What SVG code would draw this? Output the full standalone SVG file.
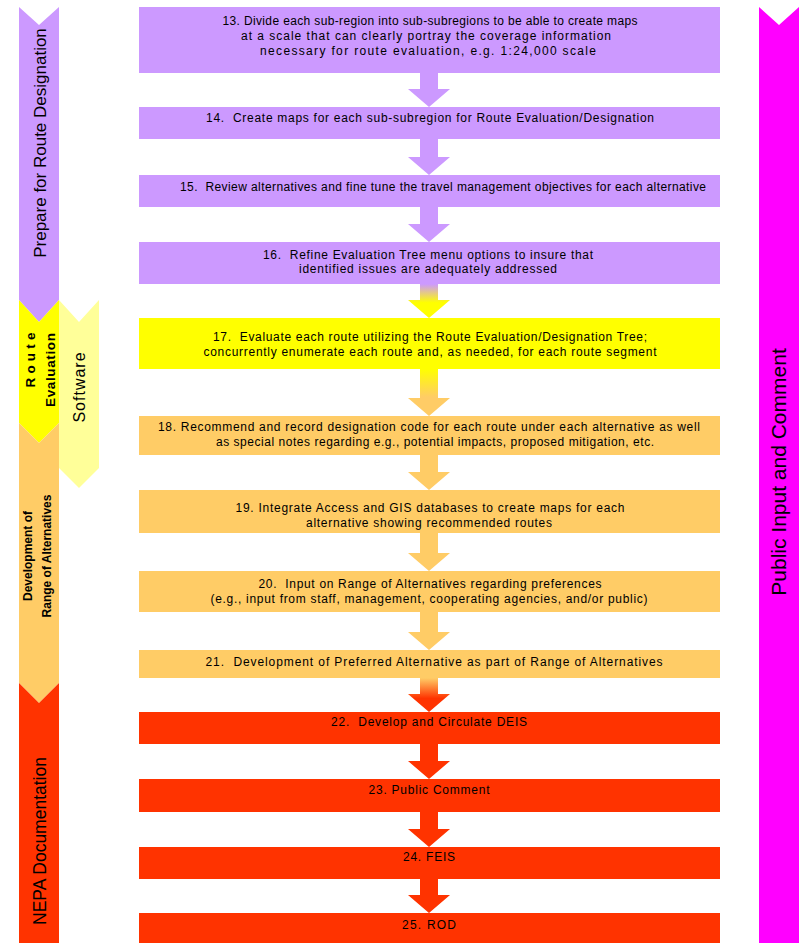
<svg xmlns="http://www.w3.org/2000/svg" width="805" height="943" viewBox="0 0 805 943">
<defs>
<linearGradient id="gPY" x1="0" y1="0" x2="0" y2="1"><stop offset="0" stop-color="#CC99FF"/><stop offset="0.55" stop-color="#FFFF00"/><stop offset="1" stop-color="#FFFF00"/></linearGradient>
<linearGradient id="gYO" x1="0" y1="0" x2="0" y2="1"><stop offset="0" stop-color="#FFFF00"/><stop offset="0.6" stop-color="#FFCC66"/><stop offset="1" stop-color="#FFCC66"/></linearGradient>
<linearGradient id="gOR" x1="0" y1="0" x2="0" y2="1"><stop offset="0" stop-color="#FFCC66"/><stop offset="0.6" stop-color="#FF3300"/><stop offset="1" stop-color="#FF3300"/></linearGradient>
</defs>
<style>
.purple{fill:#CC99FF}
.yellow{fill:#FFFF00}
.orange{fill:#FFCC66}
.red{fill:#FF3300}
.magenta{fill:#FF00FF}
.lyellow{fill:#FFFF99}
.t{font-family:"Liberation Sans",Arial,sans-serif;font-size:12px;fill:#000;text-anchor:middle}
.side{font-family:"Liberation Sans",Arial,sans-serif;fill:#000;text-anchor:middle}
</style>
<rect width="805" height="943" fill="#FFFFFF"/>

<g id="phases">
<polygon class="purple" points="19,7 39,25 59,7 59,300 39,322 19,300"/>
<polygon class="yellow" points="19,300 39,322 59,300 59,423 39,443 19,423"/>
<polygon class="orange" points="19,423 39,443 59,423 59,683 39,703 19,683"/>
<polygon class="red" points="19,683 39,703 59,683 59,943 19,943"/>
<polygon class="lyellow" points="59,300 79,322 99,300 99,468 79,488 59,468"/>
<polygon class="magenta" points="759,7 779,25 799,7 799,943 759,943"/>
<text class="side" font-size="17" transform="translate(40,143) rotate(-90)" dy="6">Prepare for Route Designation</text>
<text class="side" font-size="13.5" font-weight="bold" textLength="55" lengthAdjust="spacing" transform="translate(35,360) rotate(-90)">Route</text>
<text class="side" font-size="13.5" font-weight="bold" textLength="74" lengthAdjust="spacing" transform="translate(55,370) rotate(-90)">Evaluation</text>
<text class="side" font-size="16" letter-spacing="1" transform="translate(79,387) rotate(-90)" dy="6">Software</text>
<text class="side" font-size="12" font-weight="bold" transform="translate(32,556) rotate(-90)">Development of</text>
<text class="side" font-size="12" font-weight="bold" transform="translate(51,556) rotate(-90)">Range of Alternatives</text>
<text class="side" font-size="17.5" transform="translate(40,841) rotate(-90)" dy="6">NEPA Documentation</text>
<text class="side" font-size="21" transform="translate(779,472) rotate(-90)" dy="7">Public Input and Comment</text>
</g>

<g id="connectors">
<path class="purple" d="M420,73 H438 V89 H450 L429,107 L408,89 H420 Z"/>
<path class="purple" d="M420,139 H438 V157 H450 L429,175 L408,157 H420 Z"/>
<path class="purple" d="M420,207 H438 V224 H450 L429,242 L408,224 H420 Z"/>
<path fill="url(#gPY)" d="M420,284 H438 V300 H450 L429,318 L408,300 H420 Z"/>
<path fill="url(#gYO)" d="M420,369 H438 V398 H450 L429,416 L408,398 H420 Z"/>
<path class="orange" d="M420,455 H438 V472 H450 L429,490 L408,472 H420 Z"/>
<path class="orange" d="M420,533 H438 V553 H450 L429,571 L408,553 H420 Z"/>
<path class="orange" d="M420,612 H438 V632 H450 L429,650 L408,632 H420 Z"/>
<path fill="url(#gOR)" d="M420,678 H438 V694 H450 L429,712 L408,694 H420 Z"/>
<path class="red" d="M420,744 H438 V761 H450 L429,779 L408,761 H420 Z"/>
<path class="red" d="M420,812 H438 V829 H450 L429,847 L408,829 H420 Z"/>
<path class="red" d="M420,879 H438 V895 H450 L429,913 L408,895 H420 Z"/>
</g>

<g id="n13"><rect class="purple" x="139" y="7" width="581" height="66"/>
<text class="t" x="430" y="25" textLength="415" lengthAdjust="spacing">13. Divide each sub-region into sub-subregions to be able to create maps</text>
<text class="t" x="426" y="40" textLength="370" lengthAdjust="spacing">at a scale that can clearly portray the coverage information</text>
<text class="t" x="428" y="55" textLength="336" lengthAdjust="spacing">necessary for route evaluation, e.g. 1:24,000 scale</text></g>
<g id="n14"><rect class="purple" x="139" y="107" width="581" height="32"/>
<text class="t" x="430" y="122" textLength="448" lengthAdjust="spacing">14.&#160; Create maps for each sub-subregion for Route Evaluation/Designation</text></g>
<g id="n15"><rect class="purple" x="139" y="175" width="581" height="32"/>
<text class="t" x="443" y="191" textLength="526" lengthAdjust="spacing">15.&#160; Review alternatives and fine tune the travel management objectives for each alternative</text></g>
<g id="n16"><rect class="purple" x="139" y="242" width="581" height="42"/>
<text class="t" x="428" y="259" textLength="330" lengthAdjust="spacing">16.&#160; Refine Evaluation Tree menu options to insure that</text>
<text class="t" x="428" y="273" textLength="258" lengthAdjust="spacing">identified issues are adequately addressed</text></g>
<g id="n17"><rect class="yellow" x="139" y="318" width="581" height="51"/>
<text class="t" x="430" y="341" textLength="434" lengthAdjust="spacing">17.&#160; Evaluate each route utilizing the Route Evaluation/Designation Tree;</text>
<text class="t" x="430" y="356" textLength="453" lengthAdjust="spacing">concurrently enumerate each route and, as needed, for each route segment</text></g>
<g id="n18"><rect class="orange" x="139" y="416" width="581" height="39"/>
<text class="t" x="429" y="431" textLength="542" lengthAdjust="spacing">18. Recommend and record designation code for each route under each alternative as well</text>
<text class="t" x="435" y="446" textLength="438" lengthAdjust="spacing">as special notes regarding e.g., potential impacts, proposed mitigation, etc.</text></g>
<g id="n19"><rect class="orange" x="139" y="490" width="581" height="43"/>
<text class="t" x="430" y="512" textLength="389" lengthAdjust="spacing">19. Integrate Access and GIS databases to create maps for each</text>
<text class="t" x="429" y="527" textLength="246" lengthAdjust="spacing">alternative showing recommended routes</text></g>
<g id="n20"><rect class="orange" x="139" y="571" width="581" height="41"/>
<text class="t" x="430" y="588" textLength="343" lengthAdjust="spacing">20.&#160; Input on Range of Alternatives regarding preferences</text>
<text class="t" x="429" y="603" textLength="437" lengthAdjust="spacing">(e.g., input from staff, management, cooperating agencies, and/or public)</text></g>
<g id="n21"><rect class="orange" x="139" y="650" width="581" height="28"/>
<text class="t" x="434" y="666" textLength="457" lengthAdjust="spacing">21.&#160; Development of Preferred Alternative as part of Range of Alternatives</text></g>
<g id="n22"><rect class="red" x="139" y="712" width="581" height="32"/>
<text class="t" x="429" y="726" textLength="196" lengthAdjust="spacing">22.&#160; Develop and Circulate DEIS</text></g>
<g id="n23"><rect class="red" x="139" y="779" width="581" height="33"/>
<text class="t" x="429" y="794" textLength="121" lengthAdjust="spacing">23. Public Comment</text></g>
<g id="n24"><rect class="red" x="139" y="847" width="581" height="32"/>
<text class="t" x="429" y="861" textLength="52" lengthAdjust="spacing">24. FEIS</text></g>
<g id="n25"><rect class="red" x="139" y="913" width="581" height="30"/>
<text class="t" x="429" y="929" textLength="54" lengthAdjust="spacing">25. ROD</text></g>
</svg>
